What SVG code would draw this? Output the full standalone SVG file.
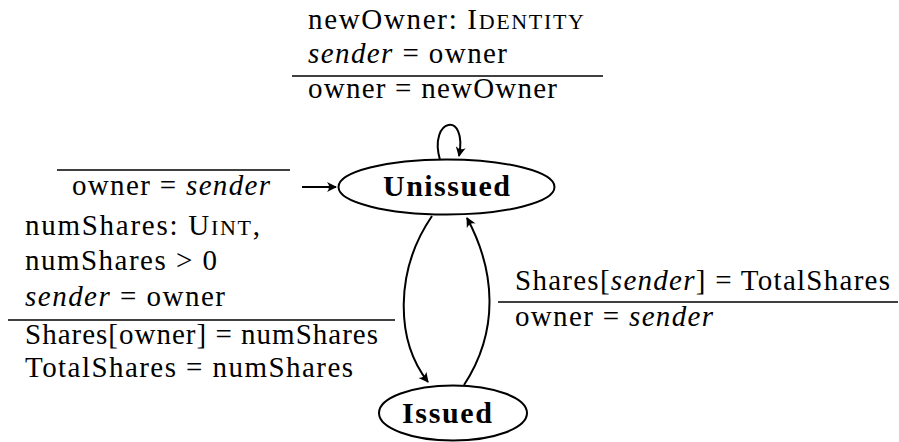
<svg xmlns="http://www.w3.org/2000/svg" width="899" height="442" viewBox="0 0 899 442">
<style>
text{font-family:"Liberation Serif","DejaVu Serif","Times New Roman",serif;font-size:29px;fill:#000}
.b{font-weight:bold;font-size:30px}
.i{font-style:italic}
.sc{font-size:22px}
.rule{stroke:#000;stroke-width:1.3}
.st{fill:#fff;stroke:#000;stroke-width:2}
.e{fill:none;stroke:#000;stroke-width:2}
</style>
<defs>
<marker id="ah" viewBox="-10 -6 12 12" refX="0" refY="0" markerWidth="12" markerHeight="12" markerUnits="userSpaceOnUse" orient="auto">
<path d="M1,0 L-9,-5 Q-5,0 -9,5 Z" fill="#000"/>
</marker>
</defs>
<g id="connectors">
<path class="e" d="M302,187 L336,187" marker-end="url(#ah)"/>
<path class="e" d="M440,160 C428,118 468,110 459,156" marker-end="url(#ah)"/>
<path class="e" d="M432,216 C395,270 395,340 428,382" marker-end="url(#ah)"/>
<path class="e" d="M464,385 C500,330 495,270 467,218" marker-end="url(#ah)"/>
</g>
<g id="unissued">
<ellipse class="st" cx="446.5" cy="187" rx="108" ry="27.5"/>
<text class="b" x="446.5" y="196" text-anchor="middle" textLength="127">Unissued</text>
</g>
<g id="issued">
<ellipse class="st" cx="453" cy="413" rx="74" ry="27.5"/>
<text class="b" x="447" y="423" text-anchor="middle" textLength="90">Issued</text>
</g>
<g id="label-self">
<text x="308" y="29" textLength="276">newOwner: I<tspan class="sc">DENTITY</tspan></text>
<text x="308" y="63" textLength="199"><tspan class="i">sender</tspan> = owner</text>
<line class="rule" x1="292" y1="76" x2="603" y2="76"/>
<text x="308" y="98" textLength="249">owner = newOwner</text>
</g>
<g id="label-init">
<line class="rule" x1="57" y1="170" x2="290" y2="170"/>
<text x="72" y="195" textLength="198">owner = <tspan class="i">sender</tspan></text>
</g>
<g id="label-issue">
<text x="25" y="235" textLength="235">numShares: U<tspan class="sc">INT</tspan>,</text>
<text x="25" y="270" textLength="192">numShares &gt; 0</text>
<text x="25" y="306" textLength="200"><tspan class="i">sender</tspan> = owner</text>
<line class="rule" x1="8" y1="320" x2="395" y2="320"/>
<text x="25" y="344" textLength="353">Shares[owner] = numShares</text>
<text x="25" y="377" textLength="328">TotalShares = numShares</text>
</g>
<g id="label-redeem">
<text x="515" y="290" textLength="375">Shares[<tspan class="i">sender</tspan>] = TotalShares</text>
<line class="rule" x1="498" y1="302" x2="898" y2="302"/>
<text x="515" y="326" textLength="198">owner = <tspan class="i">sender</tspan></text>
</g>
</svg>
